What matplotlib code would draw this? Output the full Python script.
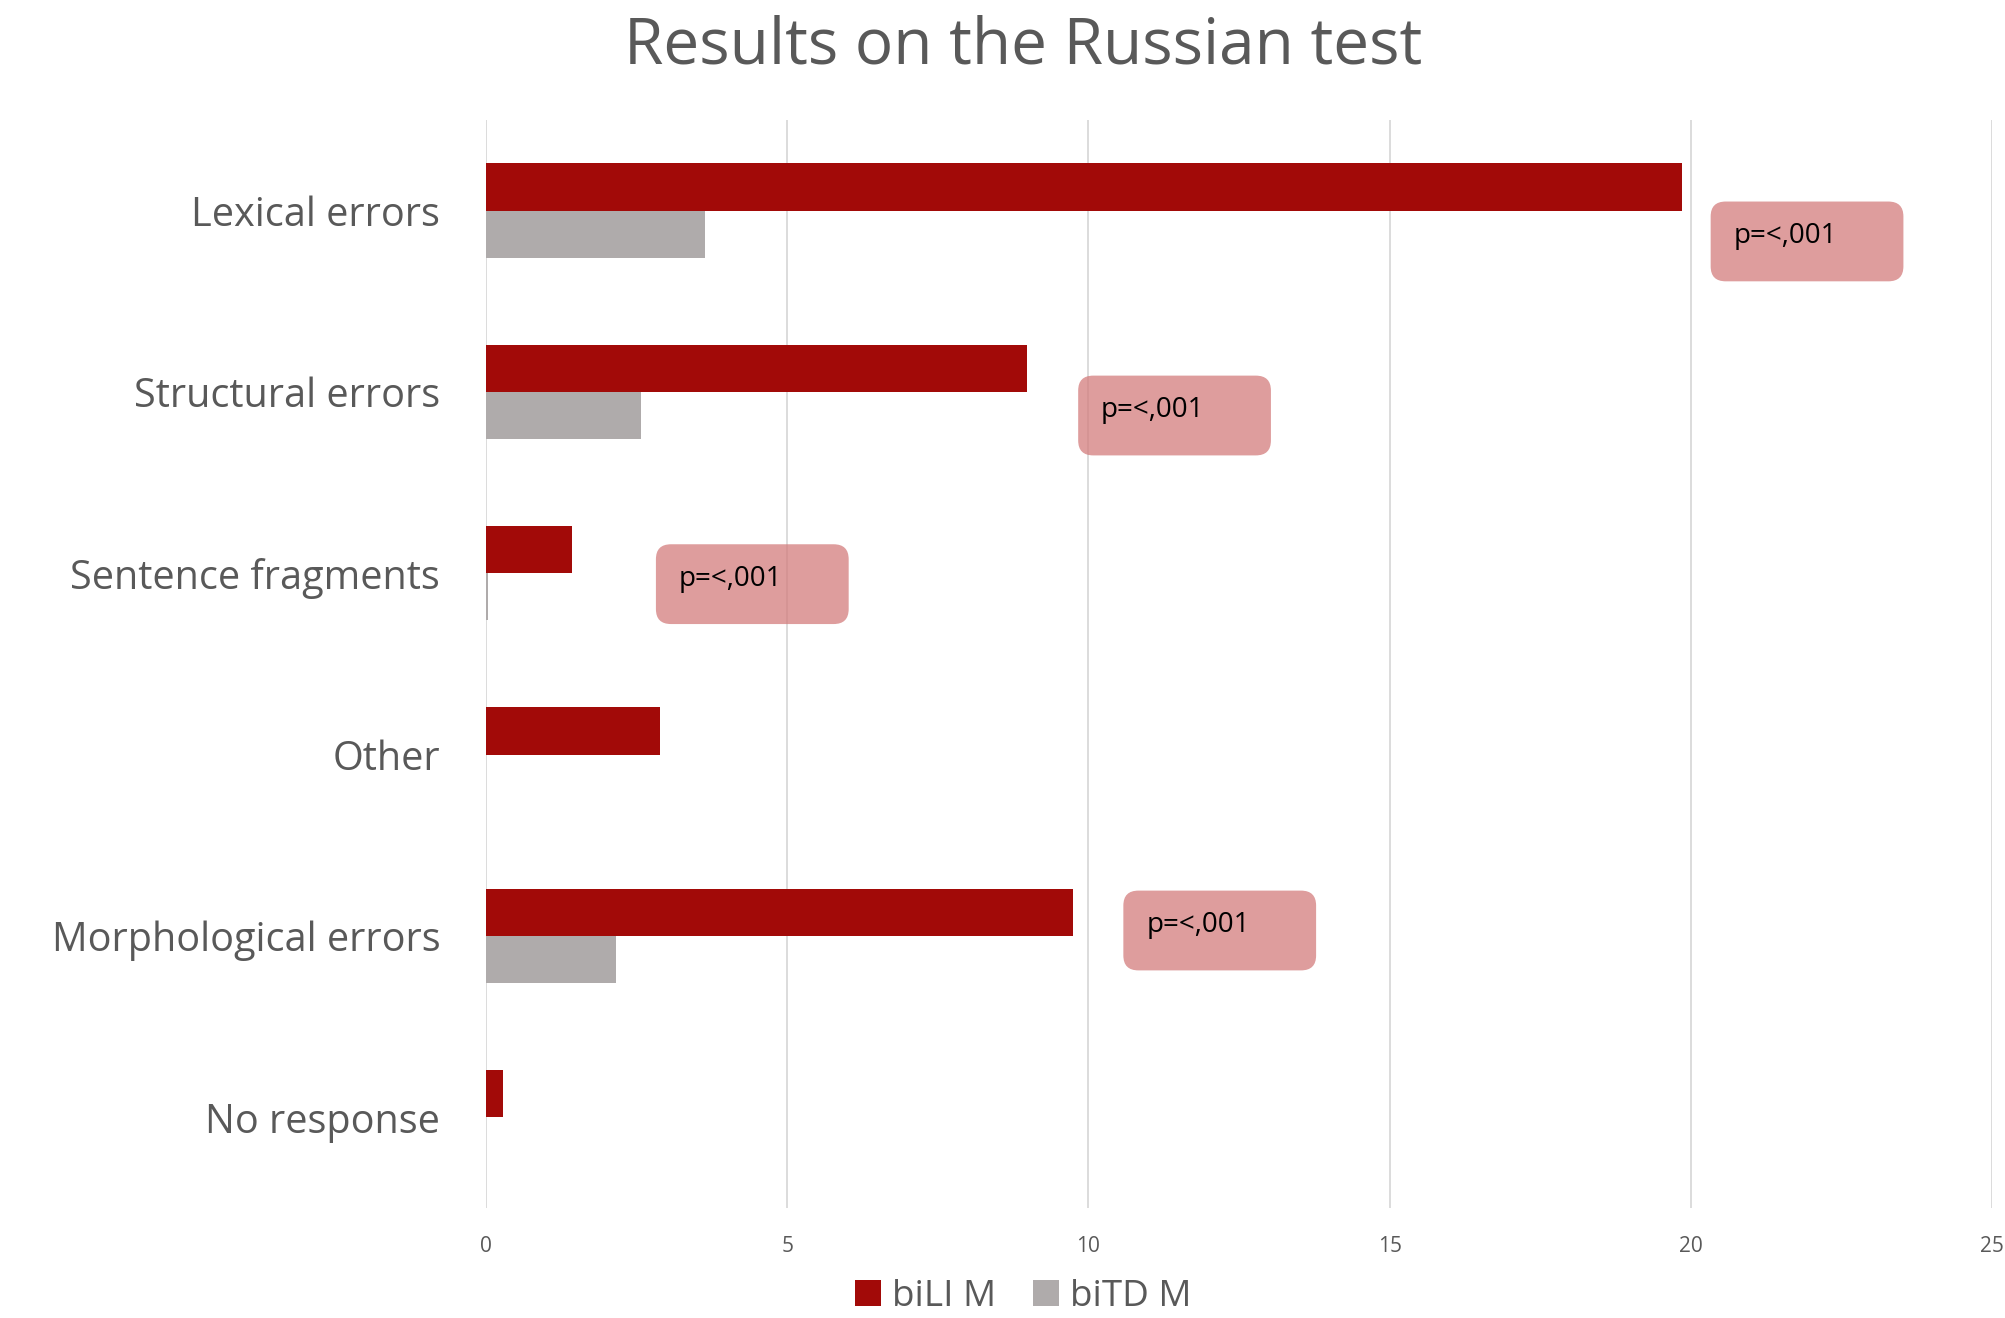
import matplotlib
matplotlib.use('Agg')
import matplotlib.pyplot as plt
from matplotlib.patches import FancyBboxPatch
import numpy as np

plt.rcParams['font.family'] = ['Open Sans', 'DejaVu Sans']

# Data
categories = ['Lexical errors', 'Structural errors', 'Sentence fragments',
              'Other', 'Morphological errors', 'No response']
bili_m = [19.86, 8.98, 1.42, 2.89, 9.75, 0.28]
bitd_m = [3.63, 2.57, 0.03, 0.0, 2.15, 0.0]
series_names = ['biLI M', 'biTD M']
p_labels = ['p=<,001', 'p=<,001', 'p=<,001', 'p=<,001']
# annotation boxes: (x left, y top, width, height) in data units
p_boxes = [(20.33, -0.05, 3.2, 0.44),
           (9.83, 0.91, 3.2, 0.44),
           (2.82, 1.84, 3.2, 0.44),
           (10.58, 3.75, 3.2, 0.44)]

red = '#A20A08'
grey = '#AFABAB'
text_grey = '#595959'

fig = plt.figure(figsize=(20.06, 13.18), dpi=100)
ax = fig.add_axes([0.2423, 0.0835, 0.7507, 0.8255])

y = np.arange(len(categories))
h = 0.26
ax.barh(y - h / 2, bili_m, height=h, color=red, label=series_names[0], zorder=3)
ax.barh(y + h / 2, bitd_m, height=h, color=grey, label=series_names[1], zorder=3)

ax.set_xlim(0, 25)
ax.set_ylim(len(categories) - 0.5, -0.5)
ax.set_xticks(np.arange(0, 26, 5))
ax.set_yticks(y)
ax.set_yticklabels(categories, fontsize=28.5, color=text_grey)
ax.tick_params(axis='x', labelsize=15, colors=text_grey, length=0, pad=20)
ax.tick_params(axis='y', length=0, pad=33)
ax.grid(axis='x', color='#D9D9D9', linewidth=1.3, zorder=0)
for s in ax.spines.values():
    s.set_visible(False)

# p-value boxes
for (bx, by, bw, bh), lab in zip(p_boxes, p_labels):
    box = FancyBboxPatch((bx, by), bw, bh,
                         boxstyle='round,pad=0,rounding_size=0.25',
                         mutation_aspect=0.33,
                         facecolor='#D37C7C', alpha=0.75, edgecolor='none', zorder=4)
    ax.add_patch(box)
    ax.text(bx + 0.38, by + 0.19, lab, fontsize=20, color='black',
            va='center', ha='left', zorder=5)

fig.text(0.51, 0.965, 'Results on the Russian test', fontsize=46,
         color=text_grey, ha='center', va='center')

fig.legend(loc='center', bbox_to_anchor=(0.51, 0.016), ncol=2, frameon=False,
           fontsize=26.5, labelcolor=text_grey, handlelength=0.7, handleheight=0.7,
           handletextpad=0.3, columnspacing=1.0, borderpad=0.1)

fig.savefig('out.png', dpi=100)
